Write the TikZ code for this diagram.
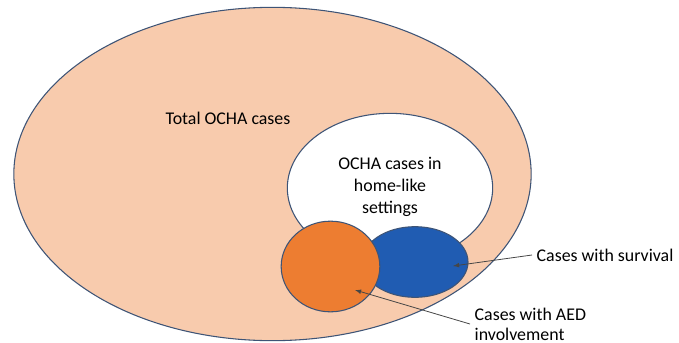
\documentclass[tikz,border=0pt]{standalone}
\usepackage{fontspec}
\setmainfont{Carlito}
\usetikzlibrary{arrows,shapes.geometric,positioning}
\definecolor{peach}{RGB}{248,203,173}
\definecolor{aedorange}{RGB}{237,125,49}
\definecolor{survblue}{RGB}{32,92,178}
\definecolor{edge}{RGB}{62,84,118}
\definecolor{pointer}{RGB}{70,70,70}

\begin{document}
\begin{tikzpicture}[x=0.75pt,y=-0.75pt,
  set/.style={ellipse,draw=edge,line width=0.8pt,inner sep=0pt},
  lbl/.style={font=\fontsize{13.4}{16.5}\selectfont,align=center},
  pointer/.style={draw=pointer,line width=0.6pt,-latex}]
\useasboundingbox (0,0) rectangle (679,343);
% sets
\node[set,fill=peach,minimum width=388pt,minimum height=250pt] (total) at (272.5,174) {};
\node[set,fill=white,minimum width=154pt,minimum height=112pt] (home) at (390,188) {};
\node[set,fill=survblue,minimum width=79.5pt,minimum height=53pt] (surv) at (415,262) {};
\node[set,fill=aedorange,minimum width=74pt,minimum height=68pt] (aed) at (330.5,266.5) {};
% labels
\node[lbl] (totallbl) at (228,118) {Total OCHA cases};
\node[lbl] (homelbl) at (390,187) {OCHA cases in\\home-like\\settings};
\node[lbl,anchor=west] (survlbl) at (532,255) {Cases with survival};
\node[lbl,align=left,anchor=west,font=\fontsize{13.4}{15}\selectfont] (aedlbl) at (470,324) {Cases with AED\\involvement};
% pointers
\coordinate (survtip) at (453,266);
\coordinate (aedtip) at (355,290);
\draw[pointer] (survlbl.west) -- (survtip);
\draw[pointer] (aedlbl.west) -- (aedtip);
\end{tikzpicture}
\end{document}
